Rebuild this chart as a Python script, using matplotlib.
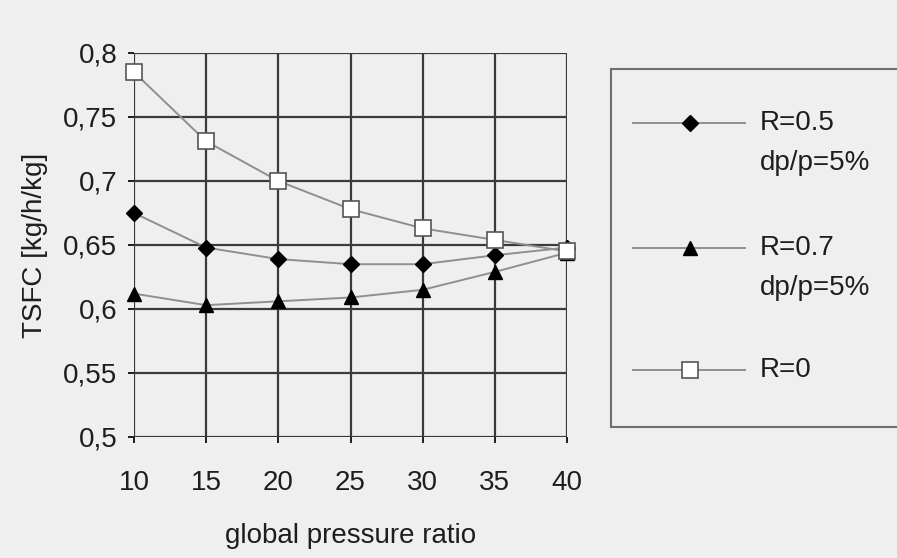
import matplotlib.pyplot as plt
from matplotlib.ticker import FuncFormatter

plt.rcParams["font.family"] = ["Liberation Sans", "DejaVu Sans"]

# global pressure ratio
ratio = [10, 15, 20, 25, 30, 35, 40]

# TSFC [kg/h/kg]
tsfc_r05 = [0.675, 0.648, 0.639, 0.635, 0.635, 0.642, 0.648]
tsfc_r07 = [0.612, 0.603, 0.606, 0.609, 0.615, 0.629, 0.644]
tsfc_r0 = [0.785, 0.731, 0.700, 0.678, 0.663, 0.654, 0.645]

names = ["R=0.5", "R=0.7", "R=0"]
notes = ["dp/p=5%", "dp/p=5%", ""]

yticks = [0.5, 0.55, 0.6, 0.65, 0.7, 0.75, 0.8]

paper = "#efefef"
ink = "#1e1e1e"
line_col = "#8f8f8f"
fs = 20

styles = [
    dict(marker="D", ms=8, mfc="black", mec="black"),
    dict(marker="^", ms=10, mfc="black", mec="black"),
    dict(marker="s", ms=11, mfc="white", mec="#555555", mew=1.2),
]

fig = plt.figure(figsize=(8.97, 5.58), dpi=100, facecolor=paper)
ax = fig.add_axes([134 / 897, 1 - 437 / 558, 433 / 897, 384 / 558], facecolor=paper)

for ys, st in zip([tsfc_r05, tsfc_r07, tsfc_r0], styles):
    ax.plot(ratio, ys, color=line_col, lw=1.4, clip_on=False, zorder=3, **st)

ax.set_xlim(10, 40)
ax.set_ylim(0.5, 0.8)
ax.set_xticks(ratio)
ax.set_yticks(yticks)
ax.yaxis.set_major_formatter(FuncFormatter(lambda v, p: f"{v:g}".replace(".", ",")))
ax.grid(True, color="#3a3a3a", lw=1.6)
ax.set_axisbelow(True)
for s in ax.spines.values():
    s.set_visible(False)
ax.tick_params(axis="both", labelsize=fs, colors=ink, length=4, width=1.4)
ax.tick_params(axis="y", pad=8)
ax.tick_params(axis="x", pad=20)
ax.set_xlabel("global pressure ratio", fontsize=fs, color=ink, labelpad=19)
ax.set_ylabel("TSFC [kg/h/kg]", fontsize=fs, color=ink, labelpad=11)

# legend box, runs off the right edge of the page
lg = fig.add_axes([611 / 897, 1 - 427 / 558, 300 / 897, 358 / 558], facecolor=paper)
lg.set_xlim(0, 300)
lg.set_ylim(358, 0)
lg.set_xticks([])
lg.set_yticks([])
for s in lg.spines.values():
    s.set_color("#707070")
    s.set_linewidth(1.5)
rows = [54, 179, 301]
for y0, name, note, st in zip(rows, names, notes, styles):
    lg.plot([22, 134], [y0, y0], color=line_col, lw=1.4)
    lg.plot([79], [y0], **st)
    lg.text(149, y0, name, fontsize=fs, color=ink, va="center")
    if note:
        lg.text(149, y0 + 40, note, fontsize=fs, color=ink, va="center")

fig.savefig("out.png", dpi=100, facecolor=paper)
